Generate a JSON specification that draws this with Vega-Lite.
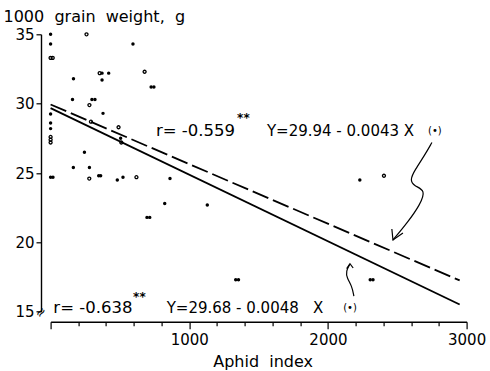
{
  "$schema": "https://vega.github.io/schema/vega-lite/v6.json",
  "width": 416,
  "height": 277.4,
  "autosize": {"type": "none"},
  "padding": {"left": 50.6, "top": 34.3, "right": 23.4, "bottom": 59.3},
  "background": "white",
  "config": {
    "view": {"stroke": null},
    "font": "DejaVu Sans",
    "axis": {
      "grid": false,
      "domainColor": "black",
      "tickColor": "black",
      "labelColor": "black",
      "titleColor": "black",
      "labelFont": "DejaVu Sans",
      "titleFont": "DejaVu Sans",
      "labelFontSize": 15,
      "titleFontSize": 16,
      "titleFontWeight": "normal",
      "domainWidth": 1.4,
      "tickWidth": 1.2
    }
  },
  "datasets": {
    "plots": [
      {"aphid": 0, "weight": 35.0, "kind": "filled"},
      {"aphid": 0, "weight": 34.3, "kind": "filled"},
      {"aphid": 0, "weight": 33.3, "kind": "open"},
      {"aphid": 15, "weight": 33.3, "kind": "open"},
      {"aphid": 259, "weight": 35.0, "kind": "open"},
      {"aphid": 594, "weight": 34.3, "kind": "filled"},
      {"aphid": 165, "weight": 31.8, "kind": "filled"},
      {"aphid": 354, "weight": 32.2, "kind": "open"},
      {"aphid": 371, "weight": 32.2, "kind": "filled"},
      {"aphid": 419, "weight": 32.2, "kind": "filled"},
      {"aphid": 371, "weight": 31.7, "kind": "filled"},
      {"aphid": 678, "weight": 32.3, "kind": "open"},
      {"aphid": 725, "weight": 31.2, "kind": "filled"},
      {"aphid": 745, "weight": 31.2, "kind": "filled"},
      {"aphid": 158, "weight": 30.3, "kind": "filled"},
      {"aphid": 298, "weight": 30.3, "kind": "filled"},
      {"aphid": 320, "weight": 30.3, "kind": "filled"},
      {"aphid": 280, "weight": 29.9, "kind": "open"},
      {"aphid": 0, "weight": 29.25, "kind": "filled"},
      {"aphid": 378, "weight": 29.3, "kind": "filled"},
      {"aphid": 0, "weight": 28.6, "kind": "filled"},
      {"aphid": 291, "weight": 28.7, "kind": "open"},
      {"aphid": 0, "weight": 28.2, "kind": "filled"},
      {"aphid": 490, "weight": 28.3, "kind": "open"},
      {"aphid": 0, "weight": 27.6, "kind": "open"},
      {"aphid": 0, "weight": 27.4, "kind": "open"},
      {"aphid": 0, "weight": 27.2, "kind": "open"},
      {"aphid": 505, "weight": 27.5, "kind": "filled"},
      {"aphid": 510, "weight": 27.2, "kind": "open"},
      {"aphid": 244, "weight": 26.5, "kind": "filled"},
      {"aphid": 164, "weight": 25.4, "kind": "filled"},
      {"aphid": 280, "weight": 25.4, "kind": "filled"},
      {"aphid": 347, "weight": 24.8, "kind": "filled"},
      {"aphid": 361, "weight": 24.8, "kind": "filled"},
      {"aphid": 279, "weight": 24.6, "kind": "open"},
      {"aphid": 0, "weight": 24.7, "kind": "filled"},
      {"aphid": 17, "weight": 24.7, "kind": "filled"},
      {"aphid": 481, "weight": 24.5, "kind": "filled"},
      {"aphid": 522, "weight": 24.7, "kind": "filled"},
      {"aphid": 619, "weight": 24.7, "kind": "open"},
      {"aphid": 861, "weight": 24.6, "kind": "filled"},
      {"aphid": 695, "weight": 21.8, "kind": "filled"},
      {"aphid": 715, "weight": 21.8, "kind": "filled"},
      {"aphid": 823, "weight": 22.8, "kind": "filled"},
      {"aphid": 1130, "weight": 22.7, "kind": "filled"},
      {"aphid": 1335, "weight": 17.3, "kind": "filled"},
      {"aphid": 1355, "weight": 17.3, "kind": "filled"},
      {"aphid": 2230, "weight": 24.5, "kind": "filled"},
      {"aphid": 2404, "weight": 24.8, "kind": "open"},
      {"aphid": 2305, "weight": 17.3, "kind": "filled"},
      {"aphid": 2325, "weight": 17.3, "kind": "filled"}
    ],
    "fits": [
      {"fit": "(•)", "aphid": 0, "weight": 29.94},
      {"fit": "(•)", "aphid": 2950, "weight": 17.255},
      {"fit": "all", "aphid": 0, "weight": 29.68},
      {"fit": "all", "aphid": 2950, "weight": 15.52}
    ],
    "squiggles": [
      {"id": "a", "step": 1, "aphid": 2750, "weight": 27.2},
      {"id": "a", "step": 2, "aphid": 2699, "weight": 26.3},
      {"id": "a", "step": 3, "aphid": 2627, "weight": 25.22},
      {"id": "a", "step": 4, "aphid": 2591, "weight": 24.5},
      {"id": "a", "step": 5, "aphid": 2620, "weight": 24.06},
      {"id": "a", "step": 6, "aphid": 2707, "weight": 23.77},
      {"id": "a", "step": 7, "aphid": 2663, "weight": 22.69},
      {"id": "a", "step": 8, "aphid": 2577, "weight": 21.47},
      {"id": "a", "step": 9, "aphid": 2469, "weight": 20.17},
      {"id": "b", "step": 1, "aphid": 2187, "weight": 16.13},
      {"id": "b", "step": 2, "aphid": 2173, "weight": 16.85},
      {"id": "b", "step": 3, "aphid": 2137, "weight": 17.43},
      {"id": "b", "step": 4, "aphid": 2130, "weight": 17.93},
      {"id": "b", "step": 5, "aphid": 2159, "weight": 18.44}
    ],
    "heads": [
      {"id": "a", "step": 1, "aphid": 2461, "weight": 20.96},
      {"id": "a", "step": 2, "aphid": 2469, "weight": 20.17},
      {"id": "a", "step": 3, "aphid": 2541, "weight": 20.67},
      {"id": "b", "step": 1, "aphid": 2135, "weight": 18.1},
      {"id": "b", "step": 2, "aphid": 2159, "weight": 18.46},
      {"id": "b", "step": 3, "aphid": 2182, "weight": 18.15}
    ],
    "labels": [
      {"aphid": 760, "weight": 28.03, "text": "r= -0.559"},
      {"aphid": 20, "weight": 15.25, "text": "r= -0.638"}
    ],
    "equations": [
      {"aphid": 1560, "weight": 28.03, "text": "Y=29.94 - 0.0043 X"},
      {"aphid": 837, "weight": 15.25, "text": "Y=29.68 - 0.0048\u00a0\u00a0\u00a0X"}
    ],
    "stars": [
      {"aphid": 1345, "weight": 28.95, "text": "**"},
      {"aphid": 595, "weight": 16.05, "text": "**"}
    ],
    "marks": [
      {"aphid": 2771, "weight": 28.03, "text": "(•)"},
      {"aphid": 2159, "weight": 15.25, "text": "(•)"}
    ],
    "breaks": [
      {"aphid": -70, "weight": 14.95, "text": "≈"}
    ]
  },
  "encoding": {
    "x": {
      "field": "aphid",
      "type": "quantitative",
      "scale": {"domain": [0, 3000], "nice": false, "zero": false},
      "axis": {
        "title": "Aphid\u00a0\u00a0index",
        "offset": 10,
        "values": [0, 200, 400, 600, 800, 1000, 1200, 1400, 1600, 1800, 2000, 2200, 2400, 2600, 2800, 3000],
        "labelExpr": "datum.value % 1000 === 0 && datum.value > 0 ? datum.label : ''",
        "format": "d",
        "tickSize": {"condition": {"test": "datum.value % 1000 === 0", "value": 7}, "value": 4},
        "labelPadding": 4,
        "labelFlush": false,
        "titleX": 212,
        "titleY": 45,
        "titleAnchor": "middle",
        "titleBaseline": "alphabetic"
      }
    },
    "y": {
      "field": "weight",
      "type": "quantitative",
      "scale": {"domain": [15, 35], "nice": false, "zero": false},
      "axis": {
        "title": "1000\u00a0\u00a0grain\u00a0\u00a0weight,\u00a0\u00a0g",
        "offset": 9.6,
        "values": [15, 20, 25, 30, 35],
        "tickSize": 5,
        "labelPadding": 2,
        "titleAngle": 0,
        "titleAlign": "left",
        "titleBaseline": "alphabetic",
        "titleX": -38,
        "titleY": -12.5
      }
    }
  },
  "layer": [
    {
      "data": {"name": "fits"},
      "mark": {"type": "line", "color": "black", "strokeWidth": 1.8, "strokeDash": [17, 5]},
      "transform": [{"filter": "datum.fit === '(•)'"}],
      "encoding": {}
    },
    {
      "data": {"name": "fits"},
      "mark": {"type": "line", "color": "black", "strokeWidth": 1.8},
      "transform": [{"filter": "datum.fit === 'all'"}],
      "encoding": {}
    },
    {
      "data": {"name": "plots"},
      "transform": [{"filter": "datum.kind === 'filled'"}],
      "mark": {"type": "circle", "color": "black", "size": 12, "opacity": 1}
    },
    {
      "data": {"name": "plots"},
      "transform": [{"filter": "datum.kind === 'open'"}],
      "mark": {"type": "point", "shape": "circle", "color": "black", "filled": false, "size": 9, "strokeWidth": 1.3, "opacity": 1}
    },
    {
      "data": {"name": "squiggles"},
      "mark": {"type": "line", "color": "black", "strokeWidth": 1.2, "interpolate": "basis"},
      "encoding": {"detail": {"field": "id"}, "order": {"field": "step"}}
    },
    {
      "data": {"name": "heads"},
      "mark": {"type": "line", "color": "black", "strokeWidth": 1.2},
      "encoding": {"detail": {"field": "id"}, "order": {"field": "step"}}
    },
    {
      "data": {"name": "labels"},
      "mark": {"type": "text", "align": "left", "baseline": "middle", "fontSize": 16.5, "color": "black"},
      "encoding": {"text": {"field": "text"}}
    },
    {
      "data": {"name": "equations"},
      "mark": {"type": "text", "align": "left", "baseline": "middle", "fontSize": 15, "color": "black"},
      "encoding": {"text": {"field": "text"}}
    },
    {
      "data": {"name": "stars"},
      "mark": {"type": "text", "align": "left", "baseline": "middle", "fontSize": 12, "fontWeight": "bold", "color": "black"},
      "encoding": {"text": {"field": "text"}}
    },
    {
      "data": {"name": "marks"},
      "mark": {"type": "text", "align": "center", "baseline": "middle", "fontSize": 10, "color": "black"},
      "encoding": {"text": {"field": "text"}}
    },
    {
      "data": {"name": "breaks"},
      "mark": {"type": "text", "align": "center", "baseline": "middle", "fontSize": 13, "angle": -50, "color": "black"},
      "encoding": {"text": {"field": "text"}}
    }
  ]
}
